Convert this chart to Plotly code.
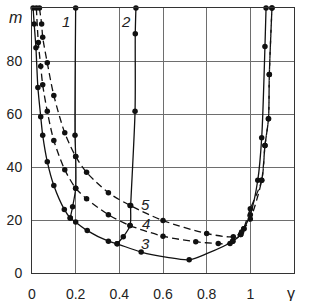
import plotly.graph_objects as go

# curve 1 (solid)
g1 = [0.175, 0.186, 0.20, 0.20, 0.197, 0.20]
m1 = [20.8, 25, 32, 44, 52, 100]
# curve 2 (solid)
g2 = [0.39, 0.418, 0.449, 0.452, 0.472, 0.473, 0.476]
m2 = [11, 13.7, 17.9, 25.5, 61, 90.3, 100]
# curve 3 (solid); dot3 = 0 marks line-only points
g3 = [0.005, 0.01, 0.018, 0.027, 0.04, 0.049, 0.07, 0.10, 0.148, 0.175, 0.20, 0.253,
      0.35, 0.39, 0.50, 0.62, 0.72, 0.80, 0.92, 0.956, 0.97, 1.0, 1.034, 1.052, 1.067, 1.072]
m3 = [100, 94, 85, 70, 59, 52, 42, 33, 24, 20.8, 19.2, 16,
      12, 11, 7.9, 5.9, 5.0, 7.3, 12, 14.5, 16.7, 22, 35, 51, 85.5, 100]
dot3 = [1, 1, 1, 1, 1, 1, 1, 1, 1, 1, 1, 1,
        1, 1, 1, 0, 1, 0, 1, 1, 1, 1, 1, 1, 1, 1]
# curve 4 (dashed)
g4 = [0.02, 0.029, 0.04, 0.049, 0.07, 0.10, 0.15, 0.20, 0.25, 0.35, 0.449, 0.60,
      0.75, 0.853, 0.907, 0.919, 0.956, 0.971, 1.0, 1.052, 1.067, 1.083, 1.087, 1.099]
m4 = [100, 87, 78, 71, 61, 50, 39, 32, 28, 22, 17.9, 13.9,
      11.8, 11.1, 11.1, 12, 14.5, 16.7, 20.4, 35, 48.1, 58.2, 74.9, 100]
# curve 5 (dashed)
g5 = [0.034, 0.044, 0.049, 0.07, 0.10, 0.15, 0.20, 0.25, 0.35, 0.449, 0.60,
      0.80, 0.922, 0.96, 1.0, 1.052, 1.067, 1.083, 1.087, 1.099]
m5 = [100, 94, 89, 79.3, 67, 52.9, 44, 38, 30.3, 25.5, 19.8,
      14.9, 13.7, 15.5, 24.2, 35, 48.1, 58.2, 74.9, 100]

x_ticks = [0, 0.2, 0.4, 0.6, 0.8, 1]
x_text = ["0", "0.2", "0.4", "0.6", "0.8", "1"]
y_ticks = [0, 20, 40, 60, 80]
y_text = ["0", "20", "40", "60", "80"]

labels = [("1", 0.155, 95), ("2", 0.43, 95), ("5", 0.52, 26), ("4", 0.52, 18.5), ("3", 0.52, 11)]

FONT = "Liberation Sans, Arial"
ink = "#111111"
fig = go.Figure()
series = [(g1, m1, None, "solid"), (g2, m2, None, "solid"), (g3, m3, dot3, "solid"),
          (g4, m4, None, "7px,4px"), (g5, m5, None, "7px,4px")]
for g, m, dots, dash in series:
    fig.add_trace(go.Scatter(
        x=g, y=m, mode="lines",
        line=dict(color=ink, width=1.3, dash=dash, shape="spline", smoothing=0.8),
        showlegend=False, cliponaxis=False, hoverinfo="skip"))
    if dots is None:
        mg, mm = g, m
    else:
        mg = [a for a, d in zip(g, dots) if d]
        mm = [b for b, d in zip(m, dots) if d]
    fig.add_trace(go.Scatter(
        x=mg, y=mm, mode="markers",
        marker=dict(color=ink, size=5.5, line=dict(width=0)),
        showlegend=False, cliponaxis=False))

for t, x, y in labels:
    fig.add_annotation(x=x, y=y, text="<i>" + t + "</i>", showarrow=False,
                       font=dict(family=FONT, size=15, color="#222"),
                       xanchor="center", yanchor="middle")
fig.add_annotation(x=0, y=96.5, xref="x", yref="y", text="<i>m</i>", showarrow=False,
                   xshift=-17, font=dict(family=FONT, size=16, color="#222"),
                   xanchor="center", yanchor="middle")
fig.add_annotation(x=1.185, y=0, xref="x", yref="y", text="γ", showarrow=False,
                   yshift=-20, font=dict(family=FONT, size=16, color="#222"),
                   xanchor="center", yanchor="middle")

axis_common = dict(showgrid=True, gridcolor="#6e6e6e", gridwidth=1,
                   showline=True, linecolor="#333", linewidth=1, mirror=True,
                   zeroline=False, ticks="outside", tickcolor="rgba(0,0,0,0)",
                   automargin=False,
                   tickfont=dict(family=FONT, size=14, color="#222"))
fig.update_xaxes(range=[0, 1.2], tickvals=x_ticks, ticktext=x_text, ticklen=8, **axis_common)
fig.update_yaxes(range=[0, 100], tickvals=y_ticks, ticktext=y_text, ticklen=6, **axis_common)
fig.update_layout(width=311, height=301, margin=dict(l=32, r=17, t=8, b=28),
                  plot_bgcolor="white", paper_bgcolor="white")
fig.write_html("out.html", config={"displayModeBar": False},
               post_script="document.body.style.margin='0px';document.body.style.padding='0px';")
